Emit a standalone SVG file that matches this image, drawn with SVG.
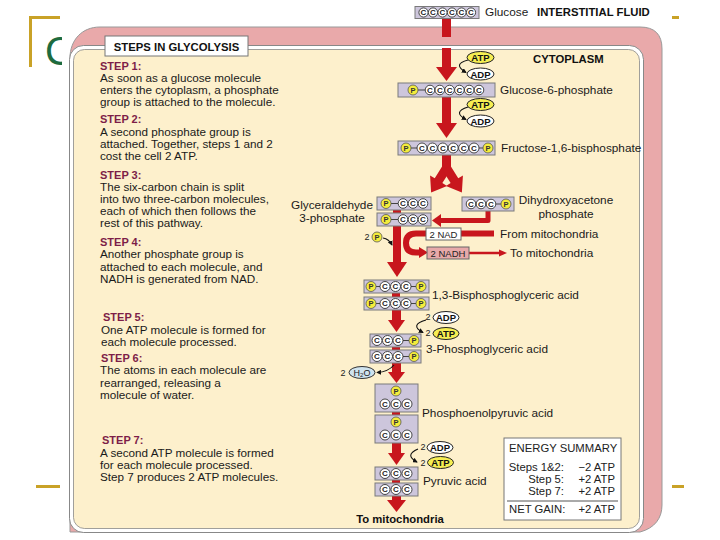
<svg xmlns="http://www.w3.org/2000/svg" width="720" height="540" viewBox="0 0 720 540">
<style>
text{font-family:"Liberation Sans",Arial,sans-serif}
.step{font-size:11px;font-weight:bold;fill:#7d1e48}
.body{font-size:11.7px;fill:#1a1a1a}
.lbl{font-size:11.8px;fill:#1a1a1a}
.hd{font-weight:bold;font-size:11.3px;fill:#111}
.box{fill:#cdc6dc;stroke:#7a7a7a;stroke-width:1}
.c{fill:#fff;stroke:#333;stroke-width:0.9}
.ct{font-size:8px;font-weight:bold;fill:#222;text-anchor:middle}
.p{fill:#f4ec3c;stroke:#555;stroke-width:0.8}
.pt{font-size:7.5px;font-weight:bold;fill:#333;text-anchor:middle}
.bond{stroke:#444;stroke-width:1}
.red{fill:#c8161d}
.redl{fill:none;stroke:#c8161d}
.atp{fill:#f6ee52;stroke:#222;stroke-width:1}
.adp{fill:#fff;stroke:#222;stroke-width:1}
.et{font-size:9.5px;font-weight:bold;fill:#111;text-anchor:middle}
.two{font-size:9px;fill:#222;text-anchor:middle}
.cur{fill:none;stroke:#111;stroke-width:1.1;marker-end:url(#ah)}
.gold{fill:#c9a227}
.sum{font-size:11.3px;fill:#222}
</style>
<defs>
<marker id="ah" viewBox="0 0 6 6" refX="5" refY="3" markerWidth="5" markerHeight="5" orient="auto" markerUnits="userSpaceOnUse"><path d="M0,0 L6,3 L0,6 z" fill="#111"/></marker>
</defs>

<!-- slide decoration -->
<g id="slide-decor">
<rect class="gold" x="29" y="16" width="3" height="51"/>
<rect class="gold" x="29" y="16" width="31" height="3"/>
<rect class="gold" x="36" y="485" width="24" height="3"/>
<rect class="gold" x="672" y="485" width="12" height="3"/>
<rect class="gold" x="672" y="16" width="7" height="3"/>
<text x="45" y="65" font-size="40" fill="#1d6b3f">C</text>
<rect x="62" y="0" width="608" height="540" fill="#fff"/>
</g>

<!-- membrane and cytoplasm -->
<g id="membrane">
<path d="M70 58 C70 40 82 27 100 27 H640 Q662 27 662 49 V505 C662 518 655 528 640 532 H70 Z" fill="#e9a9aa" stroke="#999" stroke-width="1"/>
<rect x="69.5" y="45.5" width="574" height="487" rx="14" fill="#fff" stroke="#888" stroke-width="1"/>
<rect x="73.5" y="49.5" width="566" height="479" rx="11" fill="#fdf0cc" stroke="#888" stroke-width="0.8"/>
</g>

<g id="title">
<rect x="105" y="36" width="143" height="20" fill="#fff" stroke="#777" stroke-width="1"/>
<text class="hd" x="176.5" y="51" text-anchor="middle">STEPS IN GLYCOLYSIS</text>
</g>

<g id="steps">
<text class="step" x="100" y="70">STEP 1:</text>
<text class="body" x="100" y="82">As soon as a glucose molecule</text>
<text class="body" x="100" y="94">enters the cytoplasm, a phosphate</text>
<text class="body" x="100" y="106">group is attached to the molecule.</text>
<text class="step" x="100" y="123">STEP 2:</text>
<text class="body" x="100" y="135.5">A second phosphate group is</text>
<text class="body" x="100" y="147.5">attached. Together, steps 1 and 2</text>
<text class="body" x="100" y="159.5">cost the cell 2 ATP.</text>
<text class="step" x="100" y="179">STEP 3:</text>
<text class="body" x="100" y="190.5">The six-carbon chain is split</text>
<text class="body" x="100" y="202.5">into two three-carbon molecules,</text>
<text class="body" x="100" y="215">each of which then follows the</text>
<text class="body" x="100" y="227">rest of this pathway.</text>
<text class="step" x="100" y="245.5">STEP 4:</text>
<text class="body" x="100" y="258">Another phosphate group is</text>
<text class="body" x="100" y="270.5">attached to each molecule, and</text>
<text class="body" x="100" y="282.5">NADH is generated from NAD.</text>
<text class="step" x="103" y="320.5">STEP 5:</text>
<text class="body" x="101" y="333.5">One ATP molecule is formed for</text>
<text class="body" x="101" y="345.5">each molecule processed.</text>
<text class="step" x="101" y="361.5">STEP 6:</text>
<text class="body" x="100" y="374">The atoms in each molecule are</text>
<text class="body" x="100" y="386.5">rearranged, releasing a</text>
<text class="body" x="100" y="398.5">molecule of water.</text>
<text class="step" x="102" y="444">STEP 7:</text>
<text class="body" x="100" y="456.5">A  second ATP molecule is formed</text>
<text class="body" x="100" y="469">for each molecule processed.</text>
<text class="body" x="100" y="480.5">Step 7 produces 2 ATP molecules.</text>
</g>

<!-- connectors -->
<g id="connectors">
<rect class="red" x="442" y="18" width="9" height="19"/>
<rect class="red" x="442" y="48" width="9" height="20"/>
<polygon class="red" points="436,67 457,67 446.5,81"/>
<rect class="red" x="442" y="97" width="9" height="27"/>
<polygon class="red" points="436,123 457,123 446.5,138"/>
<rect class="red" x="442" y="155" width="9" height="16"/>
<path class="red" transform="translate(446.5,168) rotate(32)" d="M-4.5 0 L4.5 0 L4.5 15 L10 15 L0 29 L-10 15 L-4.5 15 Z"/>
<path class="red" transform="translate(446.5,168) rotate(-32)" d="M-4.5 0 L4.5 0 L4.5 15 L10 15 L0 29 L-10 15 L-4.5 15 Z"/>
<path class="redl" d="M488 210 V220.5 H440" stroke-width="5" stroke-linejoin="round"/>
<polygon class="red" points="441,214 441,227 432,220.5"/>
<rect class="red" x="393" y="208" width="8" height="7"/>
<rect class="red" x="392" y="292" width="8" height="6"/>
<rect class="red" x="392" y="346" width="8" height="5"/>
<rect class="red" x="392" y="411" width="8" height="5"/>
<rect class="red" x="392" y="479" width="8" height="5"/>
<rect class="red" x="393" y="225" width="8" height="38"/>
<polygon class="red" points="387,262 407,262 397,277"/>
<path class="redl" d="M494 233.5 H416 Q406 233.5 406 243 Q406 252.5 416 252.5 H420" stroke-width="6"/>
<polygon class="red" points="419,247 419,258 428,252.5"/>
<path class="redl" d="M469 253 H500" stroke-width="2.5"/>
<polygon class="red" points="499,249.5 499,256.5 507,253"/>
<rect class="red" x="392" y="310" width="9" height="11"/>
<polygon class="red" points="388,320 405,320 396.5,332"/>
<rect class="red" x="392" y="363" width="9" height="10"/>
<polygon class="red" points="388,372 405,372 396.5,383"/>
<rect class="red" x="392" y="443" width="9" height="11"/>
<polygon class="red" points="388,453 405,453 396.5,465"/>
<rect class="red" x="392" y="496" width="9" height="5"/>
<polygon class="red" points="387,500 406,500 396.5,512"/>
<path class="cur" d="M468 60 Q452 64 466 72.5"/>
<path class="cur" d="M468 107 Q452 112 466 119.5"/>
<path class="cur" d="M426 320 Q409 325 423 332.5"/>
<path class="cur" d="M418 449 Q404 455 417 462"/>
<path class="cur" d="M383 238 Q389 239 392 245"/>
<path class="cur" d="M394 365 Q388 372 377 372.5"/>
</g>

<!-- molecules -->
<g id="glucose">
<rect class="box" x="415" y="6.5" width="64" height="12"/>
<circle class="c" cx="423.5" cy="12.5" r="4.6"/><circle class="c" cx="433" cy="12.5" r="4.6"/><circle class="c" cx="442.5" cy="12.5" r="4.6"/><circle class="c" cx="452" cy="12.5" r="4.6"/><circle class="c" cx="461.5" cy="12.5" r="4.6"/><circle class="c" cx="471" cy="12.5" r="4.6"/>
<text class="ct" x="423.5 433 442.5 452 461.5 471" y="15.3">CCCCCC</text>
<text class="lbl" x="485" y="16">Glucose</text>
<text class="hd" x="537" y="16" font-size="11">INTERSTITIAL FLUID</text>
</g>
<text class="hd" x="533" y="63">CYTOPLASM</text>

<g id="atp1">
<ellipse class="atp" cx="480.5" cy="57.5" rx="13.5" ry="6"/><text class="et" x="480.5" y="61">ATP</text>
<ellipse class="adp" cx="480.5" cy="74" rx="13.5" ry="6"/><text class="et" x="480.5" y="77.5">ADP</text>
</g>

<g id="g6p">
<rect class="box" x="398" y="83" width="97" height="14"/>
<line class="bond" x1="418" y1="90" x2="425" y2="90"/>
<circle class="p" cx="413" cy="90" r="5"/><text class="pt" x="413" y="92.7">P</text>
<circle class="c" cx="430" cy="90" r="4.8"/><circle class="c" cx="439.8" cy="90" r="4.8"/><circle class="c" cx="449.6" cy="90" r="4.8"/><circle class="c" cx="459.4" cy="90" r="4.8"/><circle class="c" cx="469.2" cy="90" r="4.8"/><circle class="c" cx="479" cy="90" r="4.8"/>
<text class="ct" x="430 439.8 449.6 459.4 469.2 479" y="92.8">CCCCCC</text>
<text class="lbl" x="500" y="94">Glucose-6-phosphate</text>
</g>

<g id="atp2">
<ellipse class="atp" cx="480.5" cy="104.5" rx="13.5" ry="6"/><text class="et" x="480.5" y="108">ATP</text>
<ellipse class="adp" cx="480.5" cy="121" rx="13.5" ry="6"/><text class="et" x="480.5" y="124.5">ADP</text>
</g>

<g id="f16bp">
<rect class="box" x="398" y="141" width="97" height="14"/>
<line class="bond" x1="411" y1="148" x2="417" y2="148"/><line class="bond" x1="479" y1="148" x2="483" y2="148"/>
<circle class="p" cx="406" cy="148" r="5"/><circle class="p" cx="488" cy="148" r="5"/>
<text class="pt" x="406" y="150.7">P</text><text class="pt" x="488" y="150.7">P</text>
<circle class="c" cx="422" cy="148" r="5"/><circle class="c" cx="432.4" cy="148" r="5"/><circle class="c" cx="442.8" cy="148" r="5"/><circle class="c" cx="453.2" cy="148" r="5"/><circle class="c" cx="463.6" cy="148" r="5"/><circle class="c" cx="474" cy="148" r="5"/>
<text class="ct" x="422 432.4 442.8 453.2 463.6 474" y="150.8">CCCCCC</text>
<text class="lbl" x="501" y="152">Fructose-1,6-bisphosphate</text>
</g>

<g id="g3p">
<rect class="box" x="377" y="197" width="54" height="13"/>
<line class="bond" x1="391" y1="203.5" x2="398" y2="203.5"/>
<circle class="p" cx="386" cy="203.5" r="5"/><text class="pt" x="386" y="206.2">P</text>
<circle class="c" cx="403" cy="203.5" r="4.8"/><circle class="c" cx="413" cy="203.5" r="4.8"/><circle class="c" cx="423" cy="203.5" r="4.8"/>
<text class="ct" x="403 413 423" y="206.3">CCC</text>
<rect class="box" x="377" y="213" width="54" height="13"/>
<line class="bond" x1="391" y1="219.5" x2="398" y2="219.5"/>
<circle class="p" cx="386" cy="219.5" r="5"/><text class="pt" x="386" y="222.2">P</text>
<circle class="c" cx="403" cy="219.5" r="4.8"/><circle class="c" cx="413" cy="219.5" r="4.8"/><circle class="c" cx="423" cy="219.5" r="4.8"/>
<text class="ct" x="403 413 423" y="222.3">CCC</text>
<text class="lbl" x="332" y="208.5" text-anchor="middle">Glyceraldehyde</text>
<text class="lbl" x="332" y="222" text-anchor="middle">3-phosphate</text>
</g>

<g id="dhap">
<rect class="box" x="462" y="197" width="52" height="14"/>
<line class="bond" x1="496" y1="204" x2="501" y2="204"/>
<circle class="c" cx="471" cy="204" r="4.8"/><circle class="c" cx="481" cy="204" r="4.8"/><circle class="c" cx="491" cy="204" r="4.8"/>
<text class="ct" x="471 481 491" y="206.8">CCC</text>
<circle class="p" cx="506" cy="204" r="5"/><text class="pt" x="506" y="206.7">P</text>
<text class="lbl" x="566" y="204" text-anchor="middle">Dihydroxyacetone</text>
<text class="lbl" x="566" y="217.5" text-anchor="middle">phosphate</text>
</g>

<g id="pi">
<text class="two" x="367" y="240">2</text>
<circle class="p" cx="377" cy="237" r="5"/><text class="pt" x="377" y="239.7">P</text>
</g>

<g id="nad">
<rect x="426" y="228" width="35" height="12" fill="#fff" stroke="#666" stroke-width="1"/>
<text x="443.5" y="237.5" font-size="9.5" fill="#222" text-anchor="middle">2 NAD</text>
<text class="lbl" x="500" y="237.5">From mitochondria</text>
</g>

<g id="nadh">
<rect x="427" y="247" width="42" height="12" fill="#e8a9a9" stroke="#666" stroke-width="1"/>
<text x="448" y="256.5" font-size="9.5" fill="#222" text-anchor="middle">2 NADH</text>
<text class="lbl" x="510" y="257">To mitochondria</text>
</g>

<g id="bpg">
<rect class="box" x="364" y="280" width="65" height="13"/>
<line class="bond" x1="376" y1="286.5" x2="380" y2="286.5"/><line class="bond" x1="411" y1="286.5" x2="416" y2="286.5"/>
<circle class="p" cx="371" cy="286.5" r="5"/><circle class="p" cx="421" cy="286.5" r="5"/>
<text class="pt" x="371" y="289.2">P</text><text class="pt" x="421" y="289.2">P</text>
<circle class="c" cx="385" cy="286.5" r="5"/><circle class="c" cx="395.5" cy="286.5" r="5"/><circle class="c" cx="406" cy="286.5" r="5"/>
<text class="ct" x="385 395.5 406" y="289.3">CCC</text>
<rect class="box" x="364" y="297" width="65" height="13"/>
<line class="bond" x1="376" y1="303.5" x2="380" y2="303.5"/><line class="bond" x1="411" y1="303.5" x2="416" y2="303.5"/>
<circle class="p" cx="371" cy="303.5" r="5"/><circle class="p" cx="421" cy="303.5" r="5"/>
<text class="pt" x="371" y="306.2">P</text><text class="pt" x="421" y="306.2">P</text>
<circle class="c" cx="385" cy="303.5" r="5"/><circle class="c" cx="395.5" cy="303.5" r="5"/><circle class="c" cx="406" cy="303.5" r="5"/>
<text class="ct" x="385 395.5 406" y="306.3">CCC</text>
<text class="lbl" x="432" y="299">1,3-Bisphosphoglyceric acid</text>
</g>

<g id="atp3">
<text class="two" x="428" y="320">2</text>
<ellipse class="adp" cx="446" cy="317.5" rx="13" ry="6"/><text class="et" x="446" y="321">ADP</text>
<text class="two" x="428" y="336">2</text>
<ellipse class="atp" cx="446" cy="333.5" rx="13" ry="6"/><text class="et" x="446" y="337">ATP</text>
</g>

<g id="pg3">
<rect class="box" x="370" y="334" width="51" height="13"/>
<line class="bond" x1="403" y1="340.5" x2="409" y2="340.5"/>
<circle class="c" cx="377" cy="340.5" r="5"/><circle class="c" cx="387.5" cy="340.5" r="5"/><circle class="c" cx="398" cy="340.5" r="5"/>
<text class="ct" x="377 387.5 398" y="343.3">CCC</text>
<circle class="p" cx="414" cy="340.5" r="5"/><text class="pt" x="414" y="343.2">P</text>
<rect class="box" x="370" y="350" width="51" height="13"/>
<line class="bond" x1="403" y1="356.5" x2="409" y2="356.5"/>
<circle class="c" cx="377" cy="356.5" r="5"/><circle class="c" cx="387.5" cy="356.5" r="5"/><circle class="c" cx="398" cy="356.5" r="5"/>
<text class="ct" x="377 387.5 398" y="359.3">CCC</text>
<circle class="p" cx="414" cy="356.5" r="5"/><text class="pt" x="414" y="359.2">P</text>
<text class="lbl" x="426" y="353">3-Phosphoglyceric acid</text>
</g>

<g id="water">
<text class="two" x="343" y="376">2</text>
<ellipse cx="362" cy="372.5" rx="13" ry="6" fill="#cfe3ee" stroke="#333" stroke-width="1"/>
<text x="362" y="375.5" font-size="9" fill="#222" text-anchor="middle">H<tspan font-size="6" dy="1.5">2</tspan><tspan dy="-1.5">O</tspan></text>
</g>

<g id="pep">
<rect class="box" x="375" y="384" width="43" height="28"/>
<circle class="p" cx="396" cy="391" r="5"/><text class="pt" x="396" y="393.7">P</text>
<circle class="c" cx="385" cy="404" r="5"/><circle class="c" cx="396" cy="404" r="5"/><circle class="c" cx="407" cy="404" r="5"/>
<text class="ct" x="385 396 407" y="406.8">CCC</text>
<rect class="box" x="375" y="415" width="43" height="28"/>
<circle class="p" cx="396" cy="422" r="5"/><text class="pt" x="396" y="424.7">P</text>
<circle class="c" cx="385" cy="435" r="5"/><circle class="c" cx="396" cy="435" r="5"/><circle class="c" cx="407" cy="435" r="5"/>
<text class="ct" x="385 396 407" y="437.8">CCC</text>
<text class="lbl" x="422" y="417">Phosphoenolpyruvic acid</text>
</g>

<g id="atp4">
<text class="two" x="423" y="450">2</text>
<ellipse class="adp" cx="440" cy="447.5" rx="13" ry="6"/><text class="et" x="440" y="451">ADP</text>
<text class="two" x="423" y="466">2</text>
<ellipse class="atp" cx="440.5" cy="462.5" rx="13" ry="6"/><text class="et" x="440.5" y="466">ATP</text>
</g>

<g id="pyruvate">
<rect class="box" x="375" y="467" width="43" height="13"/>
<circle class="c" cx="385" cy="473.5" r="5"/><circle class="c" cx="396" cy="473.5" r="5"/><circle class="c" cx="407" cy="473.5" r="5"/>
<text class="ct" x="385 396 407" y="476.3">CCC</text>
<rect class="box" x="375" y="483" width="43" height="13"/>
<circle class="c" cx="385" cy="489.5" r="5"/><circle class="c" cx="396" cy="489.5" r="5"/><circle class="c" cx="407" cy="489.5" r="5"/>
<text class="ct" x="385 396 407" y="492.3">CCC</text>
<text class="lbl" x="423" y="485">Pyruvic acid</text>
</g>

<g id="to-mito">
<text class="hd" x="400" y="523" text-anchor="middle">To mitochondria</text>
</g>

<g id="energy-summary">
<rect x="504" y="438" width="117" height="82" fill="#fff" stroke="#777" stroke-width="1"/>
<text class="sum" x="509" y="452">ENERGY SUMMARY</text>
<text class="sum" x="564" y="471" text-anchor="end">Steps 1&amp;2:</text>
<text class="sum" x="615" y="471" text-anchor="end">−2 ATP</text>
<text class="sum" x="564" y="483" text-anchor="end">Step 5:</text>
<text class="sum" x="615" y="483" text-anchor="end">+2 ATP</text>
<text class="sum" x="564" y="495" text-anchor="end">Step 7:</text>
<text class="sum" x="615" y="495" text-anchor="end">+2 ATP</text>
<line x1="507" y1="501" x2="618" y2="501" stroke="#555" stroke-width="1"/>
<text class="sum" x="509" y="513">NET GAIN:</text>
<text class="sum" x="615" y="513" text-anchor="end">+2 ATP</text>
</g>
</svg>
